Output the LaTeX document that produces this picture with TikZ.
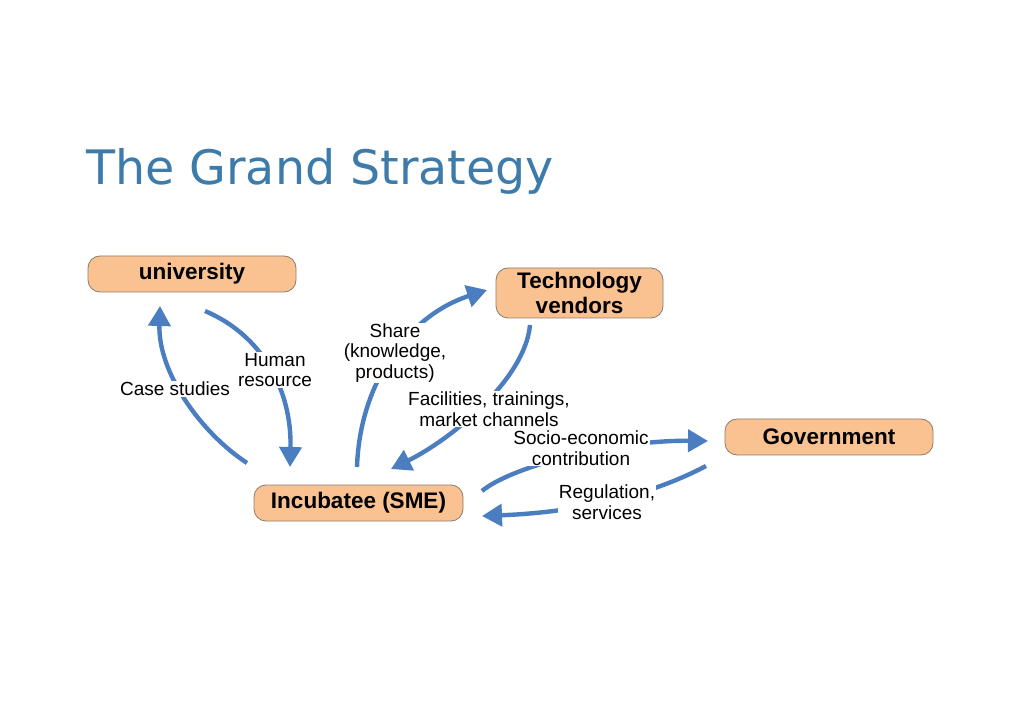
\documentclass[tikz,border=0pt]{standalone}
\usepackage{fontspec}
\setmainfont{Liberation Sans}
\newfontfamily\titlefont{DejaVu Sans}
\usetikzlibrary{arrows.meta}
\definecolor{boxfill}{HTML}{FAC291}
\definecolor{boxline}{HTML}{8C7B6A}
\definecolor{arrowblue}{HTML}{4A7EC0}
\definecolor{titleblue}{HTML}{3C7BAA}
\tikzset{
  box/.style={draw=boxline, line width=0.8pt, fill=boxfill, rounded corners=12pt,
    font=\fontsize{22.5}{24.5}\selectfont\bfseries, align=center, inner sep=0pt},
  conn/.style={draw=arrowblue, line width=4.4pt,
    -{Triangle[length=20pt,width=22pt]}},
  lbl/.style={font=\fontsize{19}{20.5}\selectfont, align=center, fill=white,
    inner sep=1pt},
}
\begin{document}
\begin{tikzpicture}[x=1pt,y=-1pt]
\useasboundingbox (0,0) rectangle (1023,708);
\fill[white] (0,0) rectangle (1023,708);
\node[anchor=base west, text=titleblue, inner sep=0pt,
  font=\titlefont\fontsize{47.5}{50}\selectfont] (title) at (86,185) {The Grand Strategy};

\node[box, minimum width=208pt, minimum height=36pt] (uni) at (192,274) {university};
\node[box, minimum width=167pt, minimum height=50pt] (tech) at (579.5,293) {Technology\\vendors};
\node[box, minimum width=208pt, minimum height=36pt] (gov) at (829,437) {Government};
\node[box, minimum width=209pt, minimum height=36pt] (sme) at (358.5,503) {Incubatee (SME)};

\coordinate (csA) at (247,463);
\coordinate (csB) at (160,306);
\coordinate (hrA) at (205,311);
\coordinate (hrB) at (290,467);
\coordinate (shA) at (357,467);
\coordinate (shB) at (487,290);
\coordinate (faA) at (530,325);
\coordinate (faB) at (391,469);
\coordinate (seA) at (482,491);
\coordinate (seB) at (708,441);
\coordinate (reA) at (706,466);
\coordinate (reB) at (482,516);

\draw[conn] (csA) .. controls (200,432) and (158,372) .. (csB);
\draw[conn] (hrA) .. controls (262,335) and (292,390) .. (hrB);
\draw[conn] (shA) .. controls (360,380) and (410,315) .. (shB);
\draw[conn] (faA) .. controls (525,380) and (450,440) .. (faB);
\draw[conn] (seA) .. controls (512,466) and (615,440) .. (seB);
\draw[conn] (reA) .. controls (655,493) and (585,512) .. (reB);

\node[lbl] (lcs) at (175,389) {Case studies};
\node[lbl] (lhr) at (275,370) {Human\\resource};
\node[lbl] (lsh) at (395,353) {Share\\(knowledge,\\products)};
\node[lbl] (lfa) at (489,409) {Facilities, trainings,\\market channels};
\node[lbl] (lse) at (581,448) {Socio-economic\\contribution};
\node[lbl] (lre) at (607,502) {Regulation,\\services};
\end{tikzpicture}
\end{document}
